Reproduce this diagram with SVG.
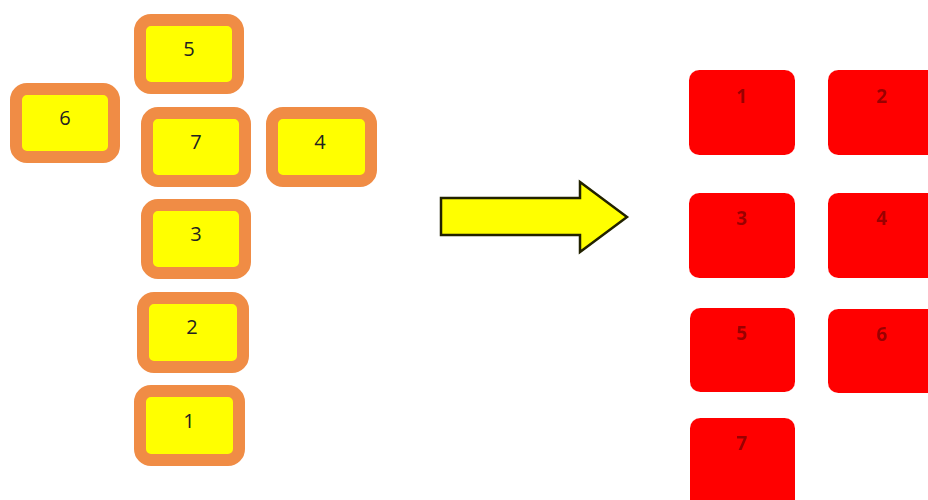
<svg xmlns="http://www.w3.org/2000/svg" width="928" height="500" viewBox="0 0 928 500">
  <defs>
    <filter id="glow" x="-10%" y="-10%" width="120%" height="120%">
      <feGaussianBlur in="SourceAlpha" stdDeviation="2"/>
      <feFlood flood-color="#ff9a9a" flood-opacity="0.6"/>
      <feComposite operator="in" in2="SourceGraphic"/>
      <feMerge>
        <feMergeNode/>
        <feMergeNode in="SourceGraphic"/>
      </feMerge>
    </filter>
  </defs>
  <style>
    .ybox { fill: #ffff00; stroke: #f08c45; stroke-width: 12; }
    .ylab { font-family: "Open Sans", "Noto Sans", "Liberation Sans", sans-serif; font-size: 20px; fill: #222222; text-anchor: middle; }
    .rbox { fill: #ff0000; }
    .rlab { font-family: "Open Sans", "Noto Sans", "Liberation Sans", sans-serif; font-size: 19px; font-weight: bold; fill: #9a0000; text-anchor: middle; }
    .arrow { fill: #ffff00; stroke: #222200; stroke-width: 2.5; stroke-linejoin: miter; }
  </style>
  <rect width="928" height="500" fill="#ffffff"/>

  <!-- left yellow boxes -->
  <g id="y5"><rect class="ybox" x="140" y="20" width="98" height="68" rx="11"/><text class="ylab" x="189" y="56">5</text></g>
  <g id="y6"><rect class="ybox" x="16" y="89" width="98" height="68" rx="11"/><text class="ylab" x="65" y="125">6</text></g>
  <g id="y7"><rect class="ybox" x="147" y="113" width="98" height="68" rx="11"/><text class="ylab" x="196" y="149">7</text></g>
  <g id="y4"><rect class="ybox" x="272" y="113" width="99" height="68" rx="11"/><text class="ylab" x="320" y="149">4</text></g>
  <g id="y3"><rect class="ybox" x="147" y="205" width="98" height="68" rx="11"/><text class="ylab" x="196" y="241">3</text></g>
  <g id="y2"><rect class="ybox" x="143" y="298" width="100" height="69" rx="11"/><text class="ylab" x="192" y="334">2</text></g>
  <g id="y1"><rect class="ybox" x="140" y="391" width="99" height="69" rx="11"/><text class="ylab" x="189" y="428">1</text></g>

  <!-- arrow -->
  <g id="connectors">
    <polygon class="arrow" points="441,198 580,198 580,182 627,217 580,252 580,235 441,235"/>
  </g>

  <!-- right red boxes -->
  <g filter="url(#glow)">
    <g id="r1"><rect class="rbox" x="689" y="70" width="106" height="85" rx="10"/><text class="rlab" x="742" y="103">1</text></g>
    <g id="r2"><rect class="rbox" x="828" y="70" width="110" height="85" rx="10"/><text class="rlab" x="882" y="103">2</text></g>
    <g id="r3"><rect class="rbox" x="689" y="193" width="106" height="85" rx="10"/><text class="rlab" x="742" y="225">3</text></g>
    <g id="r4"><rect class="rbox" x="828" y="193" width="110" height="85" rx="10"/><text class="rlab" x="882" y="225">4</text></g>
    <g id="r5"><rect class="rbox" x="690" y="308" width="105" height="84" rx="10"/><text class="rlab" x="742" y="340">5</text></g>
    <g id="r6"><rect class="rbox" x="828" y="309" width="110" height="84" rx="10"/><text class="rlab" x="882" y="341">6</text></g>
    <g id="r7"><rect class="rbox" x="690" y="418" width="105" height="95" rx="10"/><text class="rlab" x="742" y="450">7</text></g>
  </g>
</svg>
